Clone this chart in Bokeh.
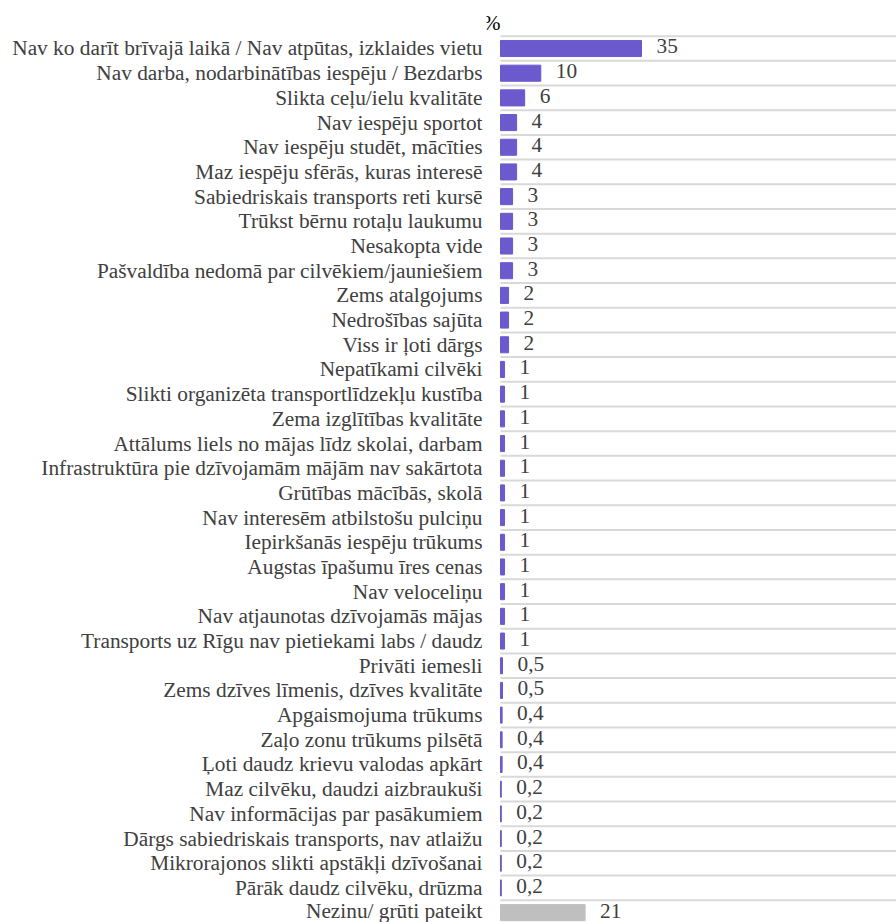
from bokeh.plotting import figure
from bokeh.models import Range1d, FixedTicker, ColumnDataSource
from bokeh.core.properties import value
from bokeh.embed import file_html
from bokeh.resources import INLINE

categories = [
    "Nav ko darīt brīvajā laikā / Nav atpūtas, izklaides vietu",
    "Nav darba, nodarbinātības iespēju / Bezdarbs",
    "Slikta ceļu/ielu kvalitāte",
    "Nav iespēju sportot",
    "Nav iespēju studēt, mācīties",
    "Maz iespēju sfērās, kuras interesē",
    "Sabiedriskais transports reti kursē",
    "Trūkst bērnu rotaļu laukumu",
    "Nesakopta vide",
    "Pašvaldība nedomā par cilvēkiem/jauniešiem",
    "Zems atalgojums",
    "Nedrošības sajūta",
    "Viss ir ļoti dārgs",
    "Nepatīkami cilvēki",
    "Slikti organizēta transportlīdzekļu kustība",
    "Zema izglītības kvalitāte",
    "Attālums liels no mājas līdz skolai, darbam",
    "Infrastruktūra pie dzīvojamām mājām nav sakārtota",
    "Grūtības mācībās, skolā",
    "Nav interesēm atbilstošu pulciņu",
    "Iepirkšanās iespēju trūkums",
    "Augstas īpašumu īres cenas",
    "Nav veloceliņu",
    "Nav atjaunotas dzīvojamās mājas",
    "Transports uz Rīgu nav pietiekami labs / daudz",
    "Privāti iemesli",
    "Zems dzīves līmenis, dzīves kvalitāte",
    "Apgaismojuma trūkums",
    "Zaļo zonu trūkums pilsētā",
    "Ļoti daudz krievu valodas apkārt",
    "Maz cilvēku, daudzi aizbraukuši",
    "Nav informācijas par pasākumiem",
    "Dārgs sabiedriskais transports, nav atlaižu",
    "Mikrorajonos slikti apstākļi dzīvošanai",
    "Pārāk daudz cilvēku, drūzma",
    "Nezinu/ grūti pateikt",
]
values = [35, 10, 6, 4, 4, 4, 3, 3, 3, 3, 2, 2, 2,
          1, 1, 1, 1, 1, 1, 1, 1, 1, 1, 1, 1,
          0.5, 0.5, 0.4, 0.4, 0.4, 0.2, 0.2, 0.2, 0.2, 0.2,
          21]
value_labels = [("%g" % v).replace(".", ",") for v in values]
unit_label = "%"

n = len(categories)
ypos = list(range(n))
colors = ["#6A5ACD"] * (n - 1) + ["#BFBFBF"]
X_END = 98.3

src = ColumnDataSource(dict(y=ypos, v=values, lab=value_labels, c=colors))

FONT = "Liberation Serif"
FSIZE = "16pt"

p = figure(width=896, height=922, output_backend="svg", toolbar_location=None,
           x_range=Range1d(-3.475, X_END), y_range=Range1d(35.40, -1.944),
           x_axis_location=None, min_border_left=486, min_border_right=0,
           min_border_top=0, min_border_bottom=0)
p.outline_line_color = None
p.background_fill_color = "white"
p.xgrid.visible = False
p.ygrid.visible = False

# row separator lines
bounds = [i - 0.5 for i in range(n)]
p.segment(x0=[0] * n, x1=[X_END] * n, y0=bounds, y1=bounds,
          line_color="#D9D9D9", line_width=2)

p.hbar(y="y", right="v", left=0, height=0.65, color="c", source=src)
p.text(x="v", y="y", text="lab", source=src, x_offset=15, y_offset=-2,
       text_baseline="middle", text_align="left",
       text_font=value(FONT), text_font_size=FSIZE, text_color="#404040")

p.text(x=[-2.23], y=[-1.05], text=[unit_label], text_align="center",
       text_baseline="middle", text_font=value(FONT),
       text_font_size=FSIZE, text_color="#000000")

ax = p.yaxis[0]
ax.ticker = FixedTicker(ticks=ypos)
ax.major_label_overrides = {i: c for i, c in enumerate(categories)}
ax.axis_line_color = None
ax.major_tick_line_color = None
ax.minor_tick_line_color = None
ax.major_tick_out = 0
ax.major_tick_in = 0
ax.major_label_standoff = 4
ax.major_label_text_font = FONT
ax.major_label_text_font_size = FSIZE
ax.major_label_text_color = "#404040"

open("out.html", "w").write(file_html(p, INLINE))
